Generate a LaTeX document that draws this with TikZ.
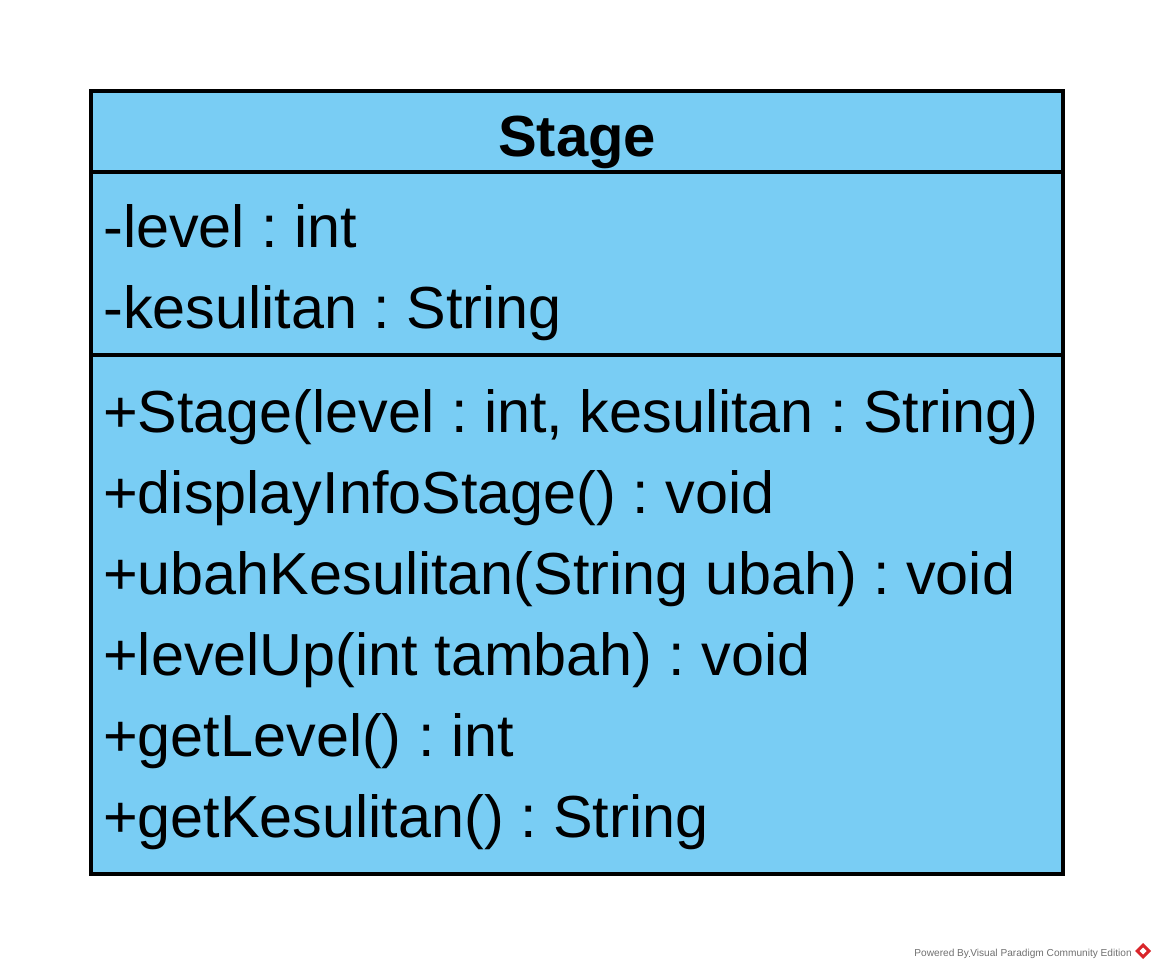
\documentclass[tikz,border=0pt]{standalone}
\usepackage{fontspec}
\setmainfont{Liberation Sans}
\frenchspacing
\usetikzlibrary{positioning}
\definecolor{umlfill}{HTML}{79CDF4}
\definecolor{wmgrey}{HTML}{707070}
\definecolor{wmred}{HTML}{D9262B}
\begin{document}
\begin{tikzpicture}[x=0.75pt,y=-0.75pt,
  member/.style={anchor=base west, inner sep=0pt, font=\fontsize{44.5}{52}\selectfont},
  titletext/.style={anchor=base, inner sep=0pt, font=\fontsize{43.5}{52}\selectfont\bfseries},
  frame/.style={draw=black, line width=3pt},
  divider/.style={draw=black, line width=3pt},
  watermark/.style={anchor=base east, inner sep=0pt, text=wmgrey, font=\fontsize{7.6}{8}\selectfont}]
\useasboundingbox (0,0) rectangle (1155,969);
% class box
\filldraw[fill=umlfill, frame] (91,91) rectangle (1063,874);
\draw[divider] (91,172) -- (1063,172);
\draw[divider] (91,355) -- (1063,355);
% title
\node[titletext] (title) at (577,157) {Stage};
% attributes
\node[member] (a1) at (103,248) {-level : int};
\node[member] (a2) at (103,329) {-kesulitan : String};
% operations
\node[member] (m1) at (103,432) {+Stage(level : int, kesulitan : String)};
\node[member] (m2) at (103,513) {+displayInfoStage() : void};
\node[member] (m3) at (103,594) {+ubahKesulitan(String ubah) : void};
\node[member] (m4) at (103,675) {+levelUp(int tambah) : void};
\node[member] (m5) at (103,756) {+getLevel() : int};
\node[member] (m6) at (103,837) {+getKesulitan() : String};
% watermark
\node[watermark] (wm) at (1132,956) {Powered By\tikz[baseline=0pt]\draw[wmgrey,line width=0.3pt] (0.03,0) rectangle (0.2,0.26);\hspace{0.5pt}Visual Paradigm Community Edition};
\fill[wmred] (1143,943) -- (1151,951) -- (1143,959) -- (1135,951) -- cycle;
\fill[white] (1143,947.5) -- (1146.5,951) -- (1143,954.5) -- (1139.5,951) -- cycle;
\end{tikzpicture}
\end{document}
